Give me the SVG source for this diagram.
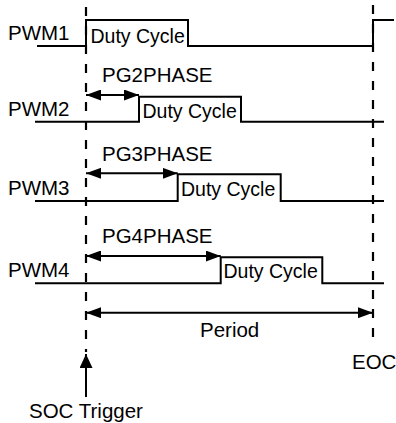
<svg xmlns="http://www.w3.org/2000/svg" width="396" height="423" viewBox="0 0 396 423">
<style>
.t{font-family:"Liberation Sans",Arial,sans-serif;font-size:20.5px;fill:#000}
.d{font-family:"Liberation Sans",Arial,sans-serif;font-size:19.5px;fill:#000}
.w{fill:none;stroke:#000;stroke-width:2}
.dash{fill:none;stroke:#000;stroke-width:2.2;stroke-dasharray:9 10}
.a{fill:none;stroke:#000;stroke-width:2}
</style>
<defs>
<marker id="ah" viewBox="0 0 15 11" refX="15" refY="5.5" markerWidth="15" markerHeight="11" markerUnits="userSpaceOnUse" orient="auto-start-reverse">
<path d="M0,0 L15,5.5 L0,11 Z" fill="#000"/>
</marker>
<marker id="ah2" viewBox="0 0 14 13" refX="14" refY="6.5" markerWidth="14" markerHeight="13" markerUnits="userSpaceOnUse" orient="auto">
<path d="M0,0 L14,6.5 L0,13 Z" fill="#000"/>
</marker>
</defs>
<rect width="396" height="423" fill="#fff"/>
<g id="guides">
<line class="dash" x1="86" y1="7" x2="86" y2="352"/>
<line class="dash" x1="373" y1="5" x2="373" y2="347"/>
</g>
<g id="pwm1">
<text class="t" x="8" y="39.5">PWM1</text>
<polyline class="w" points="37,46 86,46 86,20 188,20 188,46 373,46 373,20 394,20"/>
<text class="d" x="90.5" y="43">Duty Cycle</text>
</g>
<g id="pwm2">
<text class="t" x="8" y="116">PWM2</text>
<polyline class="w" points="35,121.7 139,121.7 139,96.7 241,96.7 241,121.7 384,121.7"/>
<text class="d" x="142.5" y="117.5">Duty Cycle</text>
</g>
<g id="pwm3">
<text class="t" x="8" y="195">PWM3</text>
<polyline class="w" points="35,201 177.7,201 177.7,174.3 280.7,174.3 280.7,201 384,201"/>
<text class="d" x="181" y="196">Duty Cycle</text>
</g>
<g id="pwm4">
<text class="t" x="8" y="277">PWM4</text>
<polyline class="w" points="35,283.3 220.7,283.3 220.7,257.3 322.3,257.3 322.3,283.3 384,283.3"/>
<text class="d" x="223.5" y="278">Duty Cycle</text>
</g>
<g id="connectors">
<line class="a" x1="86" y1="95" x2="139" y2="95" marker-start="url(#ah)" marker-end="url(#ah)"/>
<line class="a" x1="86" y1="173.3" x2="177.7" y2="173.3" marker-start="url(#ah)" marker-end="url(#ah)"/>
<line class="a" x1="86" y1="256" x2="220.7" y2="256" marker-start="url(#ah)" marker-end="url(#ah)"/>
<line class="a" x1="86" y1="312.7" x2="373" y2="312.7" marker-start="url(#ah)" marker-end="url(#ah)"/>
<line class="a" x1="86" y1="397" x2="86" y2="354" marker-end="url(#ah2)"/>
</g>
<g id="labels">
<text class="t" x="102" y="81.7">PG2PHASE</text>
<text class="t" x="102" y="160.7">PG3PHASE</text>
<text class="t" x="102" y="243">PG4PHASE</text>
<text class="t" x="200" y="336.5">Period</text>
<text class="t" x="352" y="369">EOC</text>
<text class="t" x="29" y="418">SOC Trigger</text>
</g>
</svg>
